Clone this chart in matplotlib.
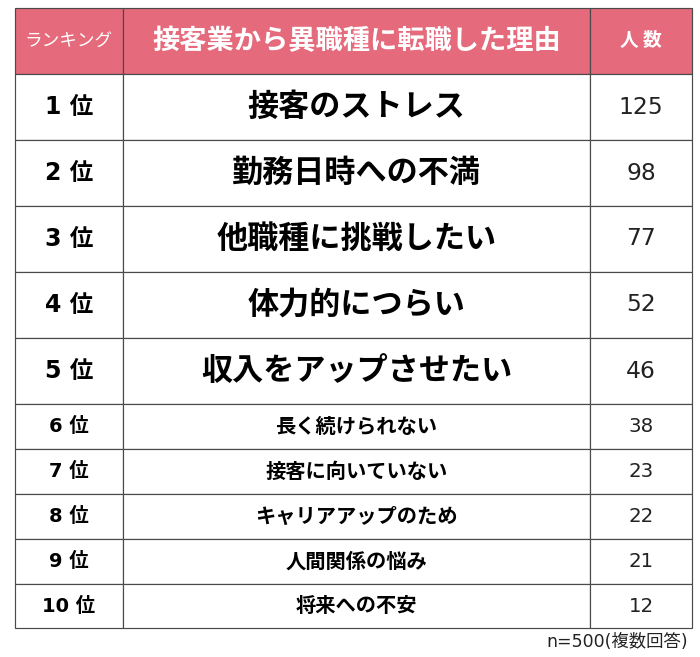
import matplotlib
matplotlib.use("Agg")
import matplotlib.pyplot as plt

plt.rcParams['font.family'] = ['Noto Sans CJK JP', 'DejaVu Sans']

headers = ["ランキング", "接客業から異職種に転職した理由", "人 数"]
ranks = ["1 位", "2 位", "3 位", "4 位", "5 位", "6 位", "7 位", "8 位", "9 位", "10 位"]
reasons = ["接客のストレス", "勤務日時への不満", "他職種に挑戦したい", "体力的につらい",
           "収入をアップさせたい", "長く続けられない", "接客に向いていない",
           "キャリアアップのため", "人間関係の悩み", "将来への不安"]
counts = [125, 98, 77, 52, 46, 38, 23, 22, 21, 12]
note = "n=500(複数回答)"

W, H = 700, 657
L, R, T, B = 15, 692, 8, 628
col_px = [108, 467, 102]
row_px = [66, 66, 66, 66, 66, 66, 45, 45, 45, 45, 44]
tw, th = R - L, B - T

fig = plt.figure(figsize=(W / 100, H / 100), dpi=100, facecolor="white")
ax = fig.add_axes([L / W, 1 - B / H, tw / W, th / H])
ax.axis("off")

cell_text = [headers] + [[r, s, str(c)] for r, s, c in zip(ranks, reasons, counts)]
tb = ax.table(cellText=cell_text, colWidths=[c / tw for c in col_px],
              cellLoc="center", bbox=[0, 0, 1, 1])
tb.auto_set_font_size(False)

PINK = "#E56A7C"
EDGE = "#4a4a4a"
for (r, c), cell in tb.get_celld().items():
    cell.set_height(row_px[r] / th)
    cell.set_edgecolor(EDGE)
    cell.set_linewidth(0.85)
    t = cell.get_text()
    if r == 0:
        cell.set_facecolor(PINK)
        t.set_color("white")
        t.set_fontsize([12.7, 19.6, 13.5][c])
        t.set_fontweight("normal" if c == 0 else "bold")
    else:
        big = r <= 5
        cell.set_facecolor("white")
        t.set_color("black" if c < 2 else "#222222")
        if c == 0:
            t.set_fontsize(17 if big else 14)
            t.set_fontweight("bold")
            t.set_fontfamily(["DejaVu Sans", "Noto Sans CJK JP"])
        elif c == 1:
            t.set_fontsize(22.4 if big else 14.6)
            t.set_fontweight("bold")
        else:
            t.set_fontsize(16.8 if big else 14.2)
            t.set_fontfamily(["DejaVu Sans"])

fig.text(688 / W, 1 - 642 / H, note, ha="right", va="center", fontsize=12.5,
         color="#222222", family=["DejaVu Sans", "Noto Sans CJK JP"])

fig.savefig("out.png", dpi=100, facecolor="white")
